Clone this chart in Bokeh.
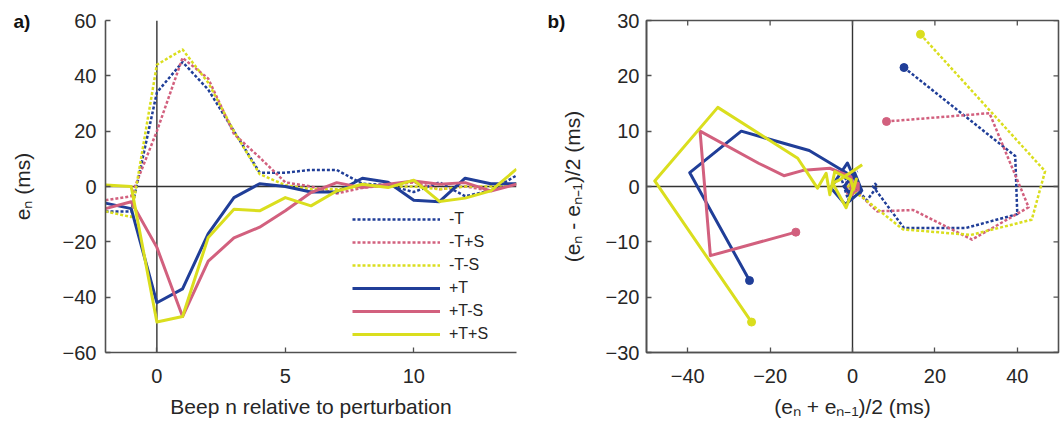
import math
from bokeh.plotting import figure
from bokeh.models import Span, Label, Legend, LegendItem, FixedTicker, Range1d
from bokeh.layouts import row
from bokeh.embed import file_html
from bokeh.resources import INLINE

# ---------------- data: panel a ----------------
beep = [-2, -1, 0, 1, 2, 3, 4, 5, 6, 7, 8, 9, 10, 11, 12, 13, 14]
en_mT = [-9, -9, 34, 45, 35, 20, 5, 5, 6, 6, 1, 0.5, -2, 1.5, -3.5, -1.5, 4]
en_mTpS = [-5, -3.5, 20, 46.5, 39, 19, 10.5, 1.5, 0, -2.5, -0.5, 0.5, 1.5, -1, 0, -1.5, 1]
en_mTmS = [-9, -11, 44, 49.5, 37.5, 20, 4.5, 0.5, -1, -1, 0, 0, 0, -1, 0, 0, 1]
en_pT = [-6, -8, -42, -37, -17, -4, 1, 0, -2, -2, 3, 1.5, -5, -5.5, 3, 1, 1]
en_pTmS = [-8, -5.5, -22, -47, -27, -18.6, -14.7, -8.8, -2.2, 1.4, -0.4, 0.8, 2, 0.8, 1.4, -1.6, 0.8]
en_pTpS = [0.5, 0, -49, -47, -18.4, -8.2, -8.8, -4, -7, -1.6, 0.8, -0.4, 2.3, -5.4, -4.2, -1.6, 6.3]

# ---------------- data: panel b (phase plane) ----------------
px_mT = [12.5, 39.5, 40, 27.5, 12.5, 5, 5.5, 6, 3.5, 0.75, -0.75, -0.25, -1, -2.5, 1.25]
py_mT = [21.5, 5.5, -5, -7.5, -7.5, 0, 0.5, 0, -2.5, -0.25, -1.25, 1.75, -2.5, 1, 2.75]
px_mTpS = [8.25, 33.25, 42.75, 29, 14.75, 6, 0.75, -1.25, -1.5, 0, 1, 0.25, -0.5, -0.75, -0.25]
py_mTpS = [11.75, 13.25, -3.75, -9.6, -4.25, -4.5, -0.75, -1.25, 1, 0.5, 0.5, -1.25, 0.5, -0.75, 1.25]
px_mTmS = [16.5, 46.75, 43.5, 28.75, 12.25, 2.5, -0.25, -1, -0.5, 0, 0, -0.5, -0.5, 0, 0.5]
py_mTmS = [27.5, 2.75, -6, -8.75, -7.75, -2, -0.75, 0, 0.5, 0, 0, -0.5, 0.5, 0, 0.5]
px_pT = [-25, -39.5, -27, -10.5, -1.5, 0.5, -1, -2, 0.5, 2.25, -1.75, -5.25, -1.25, 2, 1]
py_pT = [-17, 2.5, 10, 6.5, 2.5, -0.5, -1, 0, 2.5, -0.75, -3.25, -0.25, 4.25, -1, 0]
px_pTmS = [-13.75, -34.5, -37, -22.8, -16.65, -11.75, -5.5, -0.4, 0.5, 0.2, 1.4, 1.4, 1.1, -0.1, -0.4]
py_pTmS = [-8.25, -12.5, 10, 4.2, 1.95, 2.95, 3.3, 1.8, -0.9, 0.6, 0.6, -0.6, 0.3, -1.5, 1.2]
px_pTpS = [-24.5, -48, -32.7, -13.3, -8.5, -6.4, -5.5, -4.3, -0.4, 0.2, 0.95, -1.55, -4.8, -2.9, 2.35]
py_pTpS = [-24.5, 1, 14.3, 5.1, -0.3, 2.4, -1.5, 2.7, 1.2, -0.6, 1.35, -3.85, 0.6, 1.3, 3.95]

labels = ["-T", "-T+S", "-T-S", "+T", "+T-S", "+T+S"]
range_a_x = (-2, 14)
range_a_y = (-60, 60)
range_b_x = (-50, 50)
range_b_y = (-30, 30)
ticks_a_x = [0, 5, 10]
ticks_a_y = [-60, -40, -20, 0, 20, 40, 60]
ticks_b_x = [-40, -20, 0, 20, 40]
ticks_b_y = [-30, -20, -10, 0, 10, 20, 30]

BLUE = "#203e98"
PINK = "#d2607e"
YELL = "#dade1e"
FONT = "Liberation Sans"
TXT = "#262626"
AX = "#505050"
ZC = "#333333"

styles = [(BLUE, True), (PINK, True), (YELL, True), (BLUE, False), (PINK, False), (YELL, False)]
series_a = [en_mT, en_mTpS, en_mTmS, en_pT, en_pTmS, en_pTpS]
series_b = [(px_mT, py_mT), (px_mTpS, py_mTpS), (px_mTmS, py_mTmS),
            (px_pT, py_pT), (px_pTmS, py_pTmS), (px_pTpS, py_pTpS)]

H = 424


def style_axis(ax, ticks):
    ax.ticker = FixedTicker(ticks=ticks)
    ax.minor_tick_line_color = None
    ax.major_tick_in = 5
    ax.major_tick_out = 0
    ax.axis_line_color = AX
    ax.axis_line_width = 1.6
    ax.major_tick_line_color = AX
    ax.major_tick_line_width = 1.3
    ax.major_label_text_font = FONT
    ax.major_label_text_font_size = "20px"
    ax.major_label_text_color = TXT
    ax.axis_label_text_font = FONT
    ax.axis_label_text_font_size = "21px"
    ax.axis_label_text_font_style = "normal"
    ax.axis_label_text_color = TXT


def base_fig(width, xr, yr, left, right):
    p = figure(width=width, height=H, x_range=Range1d(*xr), y_range=Range1d(*yr),
               output_backend="svg", toolbar_location=None,
               min_border_left=left, min_border_right=right,
               min_border_top=20, min_border_bottom=H - 20 - 332)
    p.grid.visible = False
    p.background_fill_color = "white"
    p.border_fill_color = "white"
    p.add_layout(Span(location=0, dimension="width", line_color=ZC, line_width=1.4, level="underlay"))
    p.add_layout(Span(location=0, dimension="height", line_color=ZC, line_width=1.4, level="underlay"))
    return p


def letter(text, x):
    return Label(x=x, y=331, x_units="screen", y_units="screen", text=text,
                 text_font=FONT, text_font_style="bold", text_font_size="19px",
                 text_baseline="middle", text_align="left", text_color="#111111")


# ---------------- panel a ----------------
W1, L1, R1 = 538, 105, 22
p1 = base_fig(W1, range_a_x, range_a_y, L1, R1)
p1.outline_line_color = None
style_axis(p1.xaxis[0], ticks_a_x)
style_axis(p1.yaxis[0], ticks_a_y)
p1.xaxis[0].axis_label = "Beep n relative to perturbation"
p1.yaxis[0].axis_label = "eₙ (ms)"
p1.xaxis[0].major_label_standoff = 16
p1.xaxis[0].axis_label_standoff = 9
p1.yaxis[0].major_label_standoff = 9
p1.yaxis[0].axis_label_standoff = 26

items = []
for name, ys, (col, dashed) in zip(labels, series_a, styles):
    r = p1.line(beep, ys, line_color=col, line_width=2.5 if dashed else 3,
                line_dash="3 2" if dashed else "solid", line_join="round")
    items.append(LegendItem(label=name, renderers=[r]))

legend = Legend(items=items, location=(247, 8), padding=0, margin=0, spacing=3,
                glyph_width=88, glyph_height=20, label_height=20, label_standoff=9,
                label_text_font=FONT, label_text_font_size="16px", label_text_color=TXT,
                border_line_color=None, background_fill_alpha=0)
p1.add_layout(legend)

# panel letter "a)": held by the (empty) right side panel, drawn at the far left
p1.add_layout(letter("a)", 13 - (W1 - R1)), "right")

# ---------------- panel b ----------------
p2 = base_fig(523, range_b_x, range_b_y, 108, 3)
p2.outline_line_color = AX
p2.outline_line_width = 1.6
style_axis(p2.xaxis[0], ticks_b_x)
style_axis(p2.yaxis[0], ticks_b_y)
p2.xaxis[0].axis_label = "(eₙ + eₙ₋₁)/2 (ms)"
p2.yaxis[0].axis_label = "(eₙ - eₙ₋₁)/2 (ms)"
p2.xaxis[0].major_label_standoff = 16
p2.xaxis[0].axis_label_standoff = 9
p2.yaxis[0].major_label_standoff = 7
p2.yaxis[0].axis_label_standoff = 19

# inward ticks on the top and right edges of the box
p2.ray(x=ticks_b_x, y=[range_b_y[1]] * len(ticks_b_x), length=5, length_units="screen",
       angle=-math.pi / 2, line_color=AX, line_width=1.3)
p2.ray(x=[range_b_x[1]] * len(ticks_b_y), y=ticks_b_y, length=5, length_units="screen",
       angle=math.pi, line_color=AX, line_width=1.3)

for (xs, ys), (col, dashed) in zip(series_b, styles):
    p2.line(xs, ys, line_color=col, line_width=2.5 if dashed else 3,
            line_dash="3 2" if dashed else "solid", line_join="round")
    p2.scatter(xs[:1], ys[:1], size=8, fill_color=col, line_color=col)

p2.add_layout(letter("b)", 8), "left")

layout = row(p1, p2)
open("out.html", "w").write(file_html(layout, INLINE))
